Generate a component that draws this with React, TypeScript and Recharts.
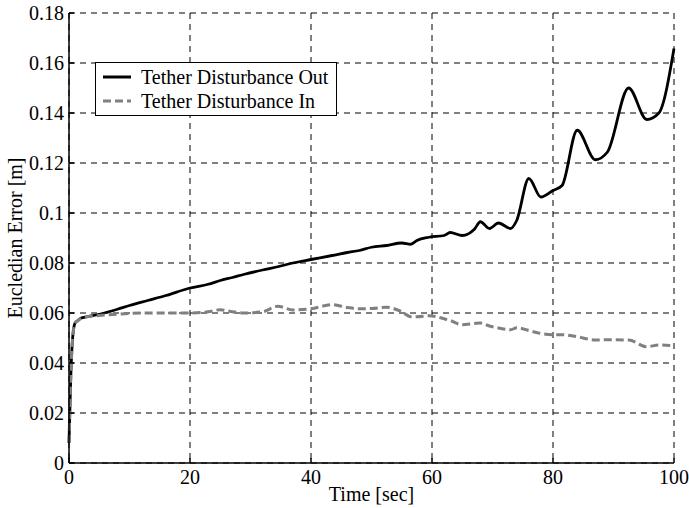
import { CartesianGrid, Legend, Line, LineChart, XAxis, YAxis } from "recharts";

const time = [
  0, 0.3, 0.6, 1, 1.5, 2, 3, 5, 8, 10, 13, 16, 20, 23, 25, 27, 29, 32, 34.5, 37, 40, 43.5, 46, 48, 50,
  52.5, 55, 56.5, 57.5, 59.5, 62, 63, 65, 67, 68, 69.5, 71, 73, 74, 76, 78, 80, 81.5, 84, 87, 89, 92.5,
  95.5, 97.5, 100,
];

const disturbanceOut = [
  0.008, 0.035, 0.05, 0.056, 0.057, 0.058, 0.0585, 0.0595, 0.0615, 0.063, 0.065, 0.067, 0.07, 0.0715,
  0.073, 0.0742, 0.0755, 0.0772, 0.0785, 0.08, 0.0814, 0.083, 0.0842, 0.085, 0.0863, 0.087, 0.088,
  0.0875, 0.089, 0.0903, 0.091, 0.0922, 0.091, 0.0935, 0.0965, 0.0938, 0.096, 0.0938, 0.097, 0.1138,
  0.1064, 0.109, 0.111, 0.1331, 0.1213, 0.1244, 0.15, 0.1374, 0.14, 0.1658,
];

const disturbanceIn = [
  0.008, 0.035, 0.05, 0.056, 0.057, 0.058, 0.0585, 0.059, 0.0595, 0.0598, 0.06, 0.06, 0.06, 0.0605,
  0.0613, 0.0605, 0.06, 0.0605, 0.0627, 0.0612, 0.0617, 0.0633, 0.0622, 0.0617, 0.0618, 0.0623, 0.0605,
  0.0585, 0.0585, 0.0589, 0.0577, 0.057, 0.0553, 0.0558, 0.056, 0.0548, 0.054, 0.0533, 0.0541, 0.053,
  0.0518, 0.0513, 0.0513, 0.0505, 0.0492, 0.0493, 0.0492, 0.0465, 0.0472, 0.0469,
];

const xTicks = [0, 20, 40, 60, 80, 100];
const yTicks = [0, 0.02, 0.04, 0.06, 0.08, 0.1, 0.12, 0.14, 0.16, 0.18];

const data = time.map((t, i) => ({ t, out: disturbanceOut[i], in: disturbanceIn[i] }));

const font = "'Liberation Serif', 'Times New Roman', serif";
const tickStyle = { fontSize: 20, fill: "#000", fontFamily: font };

function LegendBox() {
  const rows = [
    { name: "Tether Disturbance Out", color: "#000", dash: undefined },
    { name: "Tether Disturbance In", color: "#808080", dash: "8 4" },
  ];
  return (
    <div
      style={{
        border: "1px solid #000",
        background: "#fff",
        padding: "2px 8px 2px 6px",
        fontFamily: font,
        fontSize: 20,
        lineHeight: "24px",
        color: "#000",
        display: "inline-block",
        textAlign: "left",
      }}
    >
      {rows.map((r) => (
        <div key={r.name} style={{ display: "flex", alignItems: "center", whiteSpace: "nowrap" }}>
          <svg width={34} height={10} style={{ marginRight: 5 }}>
            <line x1={1} y1={5} x2={29} y2={5} stroke={r.color} strokeWidth={3} strokeDasharray={r.dash} />
          </svg>
          {r.name}
        </div>
      ))}
    </div>
  );
}

function YLabel(props: any) {
  const { viewBox } = props;
  const x = viewBox.x + 17;
  const y = viewBox.y + viewBox.height / 2;
  return (
    <text
      x={x}
      y={y}
      transform={`rotate(-90, ${x}, ${y})`}
      textAnchor="middle"
      dominantBaseline="middle"
      style={{ fontSize: 20, fontFamily: font, fill: "#000" }}
    >
      Eucledian Error [m]
    </text>
  );
}

export default function App() {
  return (
    <div style={{ position: "absolute", left: 0, top: 0, background: "#fff" }}>
      <LineChart width={689} height={508} data={data} margin={{ top: 13, right: 15, left: 0, bottom: 0 }}>
        <CartesianGrid stroke="#000" strokeDasharray="6 5" strokeWidth={1} />
        <XAxis
          dataKey="t"
          type="number"
          domain={[0, 100]}
          ticks={xTicks}
          height={45}
          stroke="#000"
          strokeWidth={1.5}
          tick={tickStyle}
          tickSize={-5}
          tickMargin={12}
          label={{ value: "Time [sec]", position: "insideBottom", offset: 7, style: { fontSize: 20, fontFamily: font, fill: "#000" } }}
        />
        <XAxis xAxisId="top" orientation="top" dataKey="t" type="number" domain={[0, 100]} height={0} tick={false} stroke="#000" strokeWidth={1.5} />
        <YAxis
          type="number"
          domain={[0, 0.18]}
          ticks={yTicks}
          width={69}
          stroke="#000"
          strokeWidth={1.5}
          tick={tickStyle}
          tickSize={-5}
          tickMargin={10}
          tickFormatter={(v: number) => String(Number(v.toFixed(2)))}
          label={{ content: YLabel }}
        />
        <YAxis yAxisId="right" orientation="right" domain={[0, 0.18]} width={0} tick={false} stroke="#000" strokeWidth={1.5} />
        <Legend
          verticalAlign="middle"
          align="center"
          layout="horizontal"
          wrapperStyle={{ left: 95, top: 62, width: "auto", height: "auto" }}
          content={() => <LegendBox />}
        />
        <Line
          type="monotone"
          dataKey="out"
          stroke="#000"
          strokeWidth={2.8}
          dot={false}
          isAnimationActive={false}
        />
        <Line
          type="monotone"
          dataKey="in"
          stroke="#808080"
          strokeWidth={3}
          strokeDasharray="8 4"
          dot={false}
          isAnimationActive={false}
        />
      </LineChart>
    </div>
  );
}
